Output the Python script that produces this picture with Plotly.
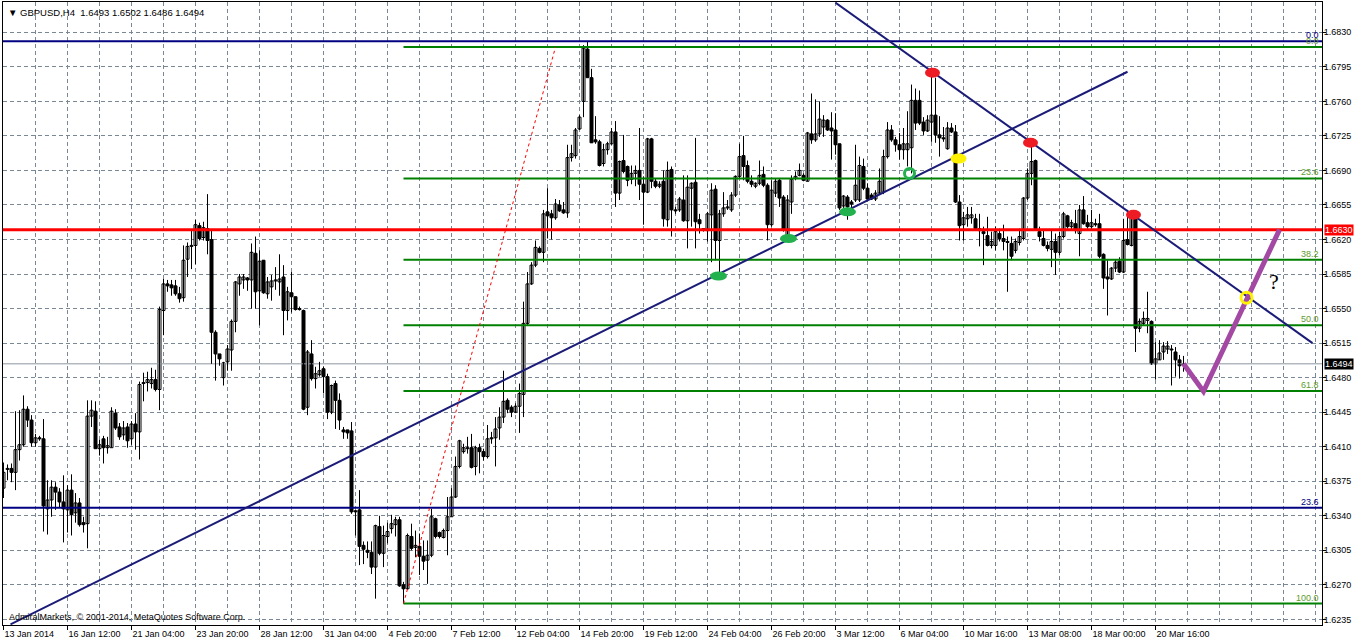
import plotly.graph_objects as go

# ---------------- candle data (GBPUSD H4, bar index 0 = 13 Jan 2014 20:00) ----------------
opens = [
1.6368,1.6387,1.6388,1.6384,1.6407,1.6412,1.6448,1.6437,1.6414,1.6419,
1.6418,1.6347,1.6356,1.6369,1.6364,1.6354,1.6346,1.6366,1.6343,1.6353,
1.6333,1.6332,1.6441,1.6446,1.6408,1.6418,1.6409,1.6409,1.6444,1.6430,
1.6422,1.6430,1.6418,1.6433,1.6425,1.6474,1.6475,1.6474,1.6478,1.6468,
1.6548,1.6575,1.6574,1.6573,1.6565,1.6561,1.6600,1.6613,1.6614,1.6634,
1.6622,1.6631,1.6620,1.6526,1.6504,1.6480,1.6496,1.6508,1.6537,1.6575,
1.6579,1.6581,1.6579,1.6606,1.6568,1.6599,1.6565,1.6572,1.6578,1.6577,
1.6582,1.6548,1.6566,1.6562,1.6550,1.6548,1.6450,1.6504,1.6479,1.6483,
1.6489,1.6481,1.6445,1.6474,1.6457,1.6427,1.6427,1.6426,1.6345,1.6346,
1.6310,1.6305,1.6303,1.6288,1.6329,1.6302,1.6319,1.6327,1.6331,1.6336,
1.6270,1.6266,1.6319,1.6308,1.6309,1.6299,1.6295,1.6300,1.6337,1.6323,
1.6318,1.6325,1.6339,1.6359,1.6390,1.6405,1.6408,1.6409,1.6390,1.6409,
1.6405,1.6400,1.6419,1.6419,1.6429,1.6440,1.6457,1.6450,1.6445,1.6451,
1.6463,1.6535,1.6575,1.6594,1.6611,1.6607,1.6648,1.6646,1.6642,1.6655,
1.6650,1.6647,1.6703,1.6705,1.6732,1.6760,1.6813,1.6784,1.6721,1.6719,
1.6697,1.6711,1.6717,1.6729,1.6667,1.6700,1.6694,1.6681,1.6687,1.6690,
1.6676,1.6668,1.6722,1.6679,1.6674,1.6679,1.6640,1.6691,1.6650,1.6650,
1.6660,1.6639,1.6672,1.6678,1.6640,1.6631,1.6629,1.6645,1.6671,1.6619,
1.6646,1.6652,1.6650,1.6665,1.6684,1.6705,1.6695,1.6679,1.6674,1.6677,
1.6686,1.6675,1.6635,1.6667,1.6680,1.6663,1.6621,1.6658,1.6682,1.6685,
1.6685,1.6679,1.6727,1.6721,1.6727,1.6734,1.6741,1.6733,1.6731,1.6717,
1.6654,1.6663,1.6658,1.6660,1.6660,1.6694,1.6672,1.6665,1.6661,1.6667,
1.6668,1.6704,1.6731,1.6721,1.6716,1.6711,1.6711,1.6713,1.6761,1.6761,
1.6739,1.6730,1.6739,1.6746,1.6726,1.6723,1.6712,1.6733,1.6729,1.6658,
1.6635,1.6641,1.6642,1.6641,1.6631,1.6628,1.6624,1.6614,1.6614,1.6626,
1.6621,1.6618,1.6616,1.6609,1.6617,1.6621,1.6662,1.6687,1.6700,1.6628,
1.6621,1.6614,1.6610,1.6618,1.6607,1.6623,1.6644,1.6633,1.6636,1.6626,
1.6650,1.6637,1.6633,1.6636,1.6636,1.6605,1.6582,1.6580,1.6591,1.6598,
1.6587,1.6620,1.6614,1.6641,1.6530,1.6535,1.6538,1.6537,1.6494,1.6498,
1.6506,1.6509,1.6509,1.6506,1.6498,1.6493]
highs = [
1.6394,1.6392,1.6393,1.6446,1.6447,1.6462,1.6451,1.6442,1.6423,1.6421,
1.6438,1.6376,1.6376,1.6374,1.6368,1.6381,1.6371,1.6382,1.6363,1.6358,
1.6339,1.6457,1.6457,1.6456,1.6417,1.6421,1.6420,1.6450,1.6448,1.6434,
1.6436,1.6434,1.6436,1.6444,1.6476,1.6485,1.6486,1.6490,1.6488,1.6552,
1.6580,1.6579,1.6579,1.6579,1.6572,1.6614,1.6617,1.6629,1.6640,1.6637,
1.6638,1.6666,1.6629,1.6528,1.6504,1.6496,1.6513,1.6539,1.6578,1.6585,
1.6585,1.6582,1.6616,1.6623,1.6609,1.6599,1.6582,1.6584,1.6592,1.6605,
1.6594,1.6572,1.6587,1.6562,1.6552,1.6549,1.6508,1.6518,1.6491,1.6496,
1.6491,1.6484,1.6473,1.6477,1.6464,1.6430,1.6427,1.6435,1.6346,1.6366,
1.6314,1.6314,1.6314,1.6331,1.6340,1.6330,1.6333,1.6341,1.6339,1.6339,
1.6273,1.6322,1.6332,1.6325,1.6322,1.6315,1.6315,1.6347,1.6338,1.6324,
1.6327,1.6359,1.6368,1.6400,1.6417,1.6413,1.6420,1.6423,1.6411,1.6413,
1.6408,1.6432,1.6425,1.6440,1.6450,1.6487,1.6459,1.6452,1.6454,1.6474,
1.6557,1.6587,1.6597,1.6619,1.6613,1.6650,1.6672,1.6650,1.6661,1.6660,
1.6658,1.6716,1.6716,1.6733,1.6746,1.6817,1.6821,1.6793,1.6745,1.6721,
1.6717,1.6719,1.6733,1.6740,1.6700,1.6726,1.6695,1.6695,1.6695,1.6733,
1.6684,1.6723,1.6723,1.6682,1.6679,1.6690,1.6699,1.6694,1.6653,1.6663,
1.6685,1.6685,1.6678,1.6723,1.6646,1.6631,1.6648,1.6677,1.6675,1.6650,
1.6668,1.6660,1.6668,1.6685,1.6717,1.6725,1.6700,1.6685,1.6678,1.6700,
1.6694,1.6677,1.6680,1.6682,1.6682,1.6665,1.6665,1.6685,1.6689,1.6697,
1.6687,1.6729,1.6768,1.6762,1.6760,1.6746,1.6742,1.6749,1.6748,1.6717,
1.6665,1.6665,1.6660,1.6716,1.6704,1.6702,1.6677,1.6667,1.6670,1.6692,
1.6711,1.6739,1.6736,1.6724,1.6728,1.6733,1.6750,1.6777,1.6773,1.6771,
1.6744,1.6746,1.6788,1.6784,1.6745,1.6734,1.6739,1.6738,1.6736,1.6665,
1.6648,1.6653,1.6653,1.6646,1.6646,1.6633,1.6643,1.6628,1.6633,1.6631,
1.6635,1.6623,1.6623,1.6621,1.6631,1.6663,1.6692,1.6717,1.6701,1.6633,
1.6630,1.6618,1.6630,1.6626,1.6628,1.6648,1.6645,1.6640,1.6650,1.6655,
1.6664,1.6645,1.6650,1.6641,1.6646,1.6606,1.6599,1.6592,1.6600,1.6602,
1.6641,1.6650,1.6645,1.6643,1.6540,1.6547,1.6567,1.6538,1.6516,1.6518,
1.6516,1.6517,1.6513,1.6511,1.6503,1.6502]
lows = [
1.6358,1.6376,1.6374,1.6366,1.6396,1.6410,1.6430,1.6410,1.6410,1.6416,
1.6324,1.6321,1.6339,1.6346,1.6348,1.6313,1.6323,1.6320,1.6333,1.6329,
1.6323,1.6307,1.6430,1.6408,1.6401,1.6393,1.6403,1.6409,1.6427,1.6417,
1.6417,1.6409,1.6412,1.6407,1.6397,1.6456,1.6466,1.6469,1.6466,1.6447,
1.6523,1.6567,1.6563,1.6563,1.6556,1.6557,1.6582,1.6590,1.6595,1.6619,
1.6619,1.6605,1.6494,1.6477,1.6492,1.6472,1.6487,1.6487,1.6526,1.6563,
1.6570,1.6568,1.6550,1.6550,1.6533,1.6565,1.6560,1.6558,1.6569,1.6563,
1.6523,1.6538,1.6546,1.6548,1.6548,1.6447,1.6442,1.6477,1.6469,1.6481,
1.6464,1.6438,1.6443,1.6428,1.6427,1.6418,1.6418,1.6342,1.6320,1.6290,
1.6291,1.6297,1.6281,1.6256,1.6300,1.6288,1.6312,1.6322,1.6319,1.6268,
1.6251,1.6265,1.6305,1.6298,1.6280,1.6285,1.6271,1.6298,1.6317,1.6317,
1.6317,1.6300,1.6339,1.6358,1.6388,1.6403,1.6403,1.6388,1.6381,1.6383,
1.6396,1.6398,1.6413,1.6390,1.6417,1.6434,1.6444,1.6440,1.6444,1.6424,
1.6440,1.6533,1.6574,1.6592,1.6606,1.6597,1.6621,1.6620,1.6640,1.6648,
1.6646,1.6642,1.6699,1.6702,1.6731,1.6744,1.6784,1.6718,1.6717,1.6694,
1.6694,1.6706,1.6716,1.6653,1.6660,1.6687,1.6674,1.6676,1.6674,1.6660,
1.6635,1.6667,1.6672,1.6672,1.6672,1.6633,1.6633,1.6623,1.6646,1.6648,
1.6638,1.6611,1.6633,1.6611,1.6626,1.6628,1.6618,1.6597,1.6599,1.6586,
1.6643,1.6650,1.6648,1.6663,1.6682,1.6680,1.6677,1.6673,1.6672,1.6675,
1.6673,1.6619,1.6633,1.6663,1.6653,1.6628,1.6619,1.6646,1.6680,1.6684,
1.6679,1.6679,1.6717,1.6719,1.6724,1.6724,1.6730,1.6701,1.6706,1.6650,
1.6652,1.6640,1.6650,1.6658,1.6658,1.6670,1.6660,1.6660,1.6659,1.6665,
1.6666,1.6702,1.6719,1.6709,1.6701,1.6701,1.6694,1.6687,1.6731,1.6736,
1.6726,1.6729,1.6719,1.6718,1.6704,1.6719,1.6711,1.6728,1.6657,1.6619,
1.6619,1.6633,1.6636,1.6629,1.6613,1.6594,1.6613,1.6611,1.6609,1.6618,
1.6609,1.6567,1.6599,1.6606,1.6614,1.6619,1.6660,1.6675,1.6629,1.6618,
1.6613,1.6608,1.6592,1.6584,1.6604,1.6621,1.6631,1.6629,1.6626,1.6603,
1.6635,1.6631,1.6631,1.6633,1.6601,1.6570,1.6543,1.6579,1.6587,1.6586,
1.6586,1.6614,1.6613,1.6506,1.6526,1.6533,1.6525,1.6493,1.6478,1.6498,
1.6498,1.6504,1.6472,1.6481,1.6479,1.6486]
closes = [
1.6384,1.6388,1.6384,1.6407,1.6412,1.6448,1.6437,1.6414,1.6419,1.6418,
1.6350,1.6356,1.6369,1.6364,1.6354,1.6347,1.6366,1.6341,1.6353,1.6331,
1.6331,1.6441,1.6447,1.6408,1.6412,1.6409,1.6411,1.6446,1.6429,1.6420,
1.6429,1.6416,1.6433,1.6425,1.6473,1.6475,1.6478,1.6478,1.6468,1.6549,
1.6575,1.6573,1.6571,1.6565,1.6560,1.6599,1.6613,1.6614,1.6635,1.6621,
1.6632,1.6619,1.6526,1.6504,1.6499,1.6495,1.6509,1.6537,1.6577,1.6582,
1.6582,1.6579,1.6607,1.6567,1.6598,1.6566,1.6577,1.6578,1.6579,1.6580,
1.6548,1.6567,1.6562,1.6549,1.6549,1.6448,1.6506,1.6479,1.6484,1.6487,
1.6481,1.6445,1.6472,1.6457,1.6437,1.6425,1.6424,1.6344,1.6344,1.6309,
1.6306,1.6303,1.6288,1.6330,1.6302,1.6320,1.6324,1.6332,1.6336,1.6269,
1.6266,1.6320,1.6307,1.6310,1.6299,1.6294,1.6300,1.6339,1.6319,1.6319,
1.6325,1.6339,1.6359,1.6390,1.6416,1.6409,1.6409,1.6389,1.6409,1.6405,
1.6400,1.6418,1.6418,1.6428,1.6440,1.6456,1.6448,1.6445,1.6451,1.6464,
1.6535,1.6575,1.6594,1.6612,1.6607,1.6646,1.6644,1.6642,1.6656,1.6649,
1.6647,1.6703,1.6707,1.6731,1.6744,1.6814,1.6784,1.6718,1.6719,1.6695,
1.6711,1.6717,1.6729,1.6667,1.6699,1.6689,1.6680,1.6687,1.6690,1.6676,
1.6668,1.6722,1.6679,1.6674,1.6676,1.6641,1.6690,1.6650,1.6649,1.6661,
1.6639,1.6673,1.6677,1.6638,1.6636,1.6630,1.6646,1.6670,1.6619,1.6646,
1.6652,1.6653,1.6665,1.6684,1.6704,1.6694,1.6679,1.6676,1.6677,1.6685,
1.6675,1.6635,1.6670,1.6679,1.6662,1.6630,1.6660,1.6681,1.6684,1.6690,
1.6680,1.6728,1.6721,1.6727,1.6742,1.6741,1.6731,1.6730,1.6716,1.6652,
1.6664,1.6653,1.6656,1.6675,1.6695,1.6672,1.6661,1.6661,1.6667,1.6679,
1.6704,1.6731,1.6721,1.6716,1.6711,1.6717,1.6717,1.6761,1.6738,1.6738,
1.6730,1.6741,1.6746,1.6726,1.6723,1.6722,1.6733,1.6729,1.6658,1.6634,
1.6642,1.6645,1.6645,1.6631,1.6629,1.6626,1.6614,1.6618,1.6628,1.6621,
1.6618,1.6617,1.6603,1.6618,1.6623,1.6662,1.6687,1.6699,1.6631,1.6623,
1.6614,1.6611,1.6618,1.6607,1.6623,1.6646,1.6633,1.6637,1.6629,1.6650,
1.6636,1.6633,1.6637,1.6635,1.6603,1.6581,1.6580,1.6591,1.6597,1.6587,
1.6619,1.6615,1.6643,1.6530,1.6537,1.6540,1.6540,1.6494,1.6499,1.6505,
1.6512,1.6512,1.6508,1.6498,1.6492,1.6494]

# ---------------- axis labels ----------------
date_tick_bars = [0, 16, 32, 48, 64, 80, 96, 112, 128, 144, 160, 176, 192, 208, 224, 240, 256, 272, 288]
date_tick_labels = ["13 Jan 2014", "16 Jan 12:00", "21 Jan 04:00", "23 Jan 20:00", "28 Jan 12:00",
                    "31 Jan 04:00", "4 Feb 20:00", "7 Feb 12:00", "12 Feb 04:00", "14 Feb 20:00",
                    "19 Feb 12:00", "24 Feb 04:00", "26 Feb 20:00", "3 Mar 12:00", "6 Mar 04:00",
                    "10 Mar 16:00", "13 Mar 08:00", "18 Mar 00:00", "20 Mar 16:00"]
price_ticks = [1.6235, 1.6270, 1.6305, 1.6340, 1.6375, 1.6410, 1.6445, 1.6480, 1.6515, 1.6550,
               1.6585, 1.6620, 1.6655, 1.6690, 1.6725, 1.6760, 1.6795, 1.6830]

# ---------------- chart objects ----------------
green_fib_high = 1.6815
green_fib_low = 1.6251
green_fib_start = 100
green_fib_levels = [0.0, 23.6, 38.2, 50.0, 61.8, 100.0]
blue_fib_high = 1.6821
blue_fib_low = 1.4817
blue_fib_levels = [0.0, 23.6]
resistance_level = 1.6630

up_trend_bars = [1.75, 281]
up_trend_prices = [1.6230, 1.6790]
down_trend_bars = [208, 327.25]
down_trend_prices = [1.6860, 1.6515]
fib_ray_bars = [100, 138]
fib_ray_prices = [1.6251, 1.6815]
projection_bars = [295, 300, 319]
projection_prices = [1.6494, 1.6466, 1.6630]

green_mark_bars = [178.75, 196.25, 211]
green_mark_prices = [1.6583, 1.6621, 1.6648]
red_mark_bars = [232.25, 256.75, 282.5]
red_mark_prices = [1.6789, 1.6718, 1.6645]
yellow_mark_bars = [238.75]
yellow_mark_prices = [1.6702]
green_ring_bars = [226.5]
green_ring_prices = [1.6687]
yellow_ring_bars = [310.75]
yellow_ring_prices = [1.6561]
question_bar = 317.5
question_price = 1.6577

# ---------------- figure ----------------
X_MIN, X_MAX = -0.125, 329.625
Y_MIN, Y_MAX = 1.62293, 1.68607
GRID = "#7A8794"
FONT = "Liberation Sans"
NAVY = "#000080"
TREND = "#1B1B78"
GREEN = "#008000"
bars = list(range(len(opens)))
bid = closes[-1]

fig = go.Figure()

# bid line (behind candles)
fig.add_trace(go.Scatter(x=[X_MIN, X_MAX], y=[bid, bid], mode="lines",
                         line=dict(color="#8C96A0", width=1), hoverinfo="skip", showlegend=False))

# candle wicks
wick_x, wick_y = [], []
for i, h, l in zip(bars, highs, lows):
    wick_x += [i, i, None]
    wick_y += [l, h, None]
fig.add_trace(go.Scatter(x=wick_x, y=wick_y, mode="lines", line=dict(color="black", width=1),
                         hoverinfo="skip", showlegend=False))

# candle bodies
body_base = [min(o, c) for o, c in zip(opens, closes)]
body_len = [max(abs(c - o), 0.00004) for o, c in zip(opens, closes)]
body_fill = ["white" if c > o else "black" for o, c in zip(opens, closes)]
fig.add_trace(go.Bar(x=bars, y=body_len, base=body_base, width=0.75,
                     marker=dict(color=body_fill, line=dict(color="black", width=1)),
                     hoverinfo="skip", showlegend=False))

def line(xs, ys, color, width, dash=None):
    fig.add_trace(go.Scatter(x=xs, y=ys, mode="lines",
                             line=dict(color=color, width=width, dash=dash),
                             hoverinfo="skip", showlegend=False))

# blue fibo (full width)
blue_prices = [blue_fib_high - lv / 100 * (blue_fib_high - blue_fib_low) for lv in blue_fib_levels]
for p in blue_prices:
    line([X_MIN, X_MAX], [p, p], NAVY, 2)
# green fibo
green_prices = [green_fib_high - lv / 100 * (green_fib_high - green_fib_low) for lv in green_fib_levels]
for p in green_prices:
    line([green_fib_start, X_MAX], [p, p], GREEN, 2)
# fibo ray
line(fib_ray_bars, fib_ray_prices, "#FF0000", 1, "3px,3px")
# red horizontal
line([X_MIN, X_MAX], [resistance_level, resistance_level], "#FF0000", 3)
# trend lines
line(up_trend_bars, up_trend_prices, TREND, 2)
line(down_trend_bars, down_trend_prices, TREND, 2)
# projection
line(projection_bars, projection_prices, "#A349A4", 5)

shapes = []
def ellipse(bx, py, w, h, fill, border=None, bw=0):
    shapes.append(dict(type="circle", xref="x", yref="y", xsizemode="pixel", ysizemode="pixel",
                       xanchor=bx, yanchor=py, x0=-w / 2, x1=w / 2, y0=-h / 2, y1=h / 2,
                       fillcolor=fill, line=dict(color=border or fill, width=bw), layer="above"))

for bx, py in zip(green_mark_bars, green_mark_prices):
    ellipse(bx, py, 17, 9, "#22B14C")
for bx, py in zip(red_mark_bars, red_mark_prices):
    ellipse(bx, py, 15, 10, "#ED1C24")
for bx, py in zip(yellow_mark_bars, yellow_mark_prices):
    ellipse(bx, py, 16, 10, "#FFF200")
for bx, py in zip(green_ring_bars, green_ring_prices):
    ellipse(bx, py, 10, 10, "rgba(0,0,0,0)", "#22B14C", 3)
for bx, py in zip(yellow_ring_bars, yellow_ring_prices):
    ellipse(bx, py, 11, 11, "rgba(0,0,0,0)", "#FFF200", 3)

annotations = []
# fib labels
for lv, p in zip(green_fib_levels, green_prices):
    annotations.append(dict(xref="paper", x=1, xanchor="right", xshift=-1, yref="y", y=p,
                            yanchor="bottom", yshift=-1, text=f"{lv:.1f}", showarrow=False,
                            font=dict(family=FONT, size=9, color="#5E9C2E")))
for lv, p in zip(blue_fib_levels, blue_prices):
    annotations.append(dict(xref="paper", x=1, xanchor="right", xshift=-1, yref="y", y=p,
                            yanchor="bottom", yshift=-1, text=f"{lv:.1f}", showarrow=False,
                            font=dict(family=FONT, size=9, color=NAVY)))
# price boxes
annotations.append(dict(xref="paper", x=1, xanchor="left", xshift=2, yref="y", y=resistance_level,
                        text=f"{resistance_level:.4f}", showarrow=False, bgcolor="#FF0000",
                        font=dict(family=FONT, size=9, color="white"), borderpad=0))
annotations.append(dict(xref="paper", x=1, xanchor="left", xshift=2, yref="y", y=bid,
                        text=f"{bid:.4f}", showarrow=False, bgcolor="black",
                        font=dict(family=FONT, size=9, color="white"), borderpad=0))
# header & copyright
annotations.append(dict(xref="paper", x=0, xanchor="left", xshift=3, yref="paper", y=1,
                        yanchor="top", yshift=-3,
                        text=f"▼ GBPUSD,H4  {opens[-1]:.4f} {highs[-1]:.4f} {lows[-1]:.4f} {closes[-1]:.4f}",
                        showarrow=False, font=dict(family=FONT, size=9.5, color="black")))
annotations.append(dict(xref="paper", x=0, xanchor="left", xshift=4, yref="paper", y=0,
                        yanchor="bottom", yshift=1,
                        text="AdmiralMarkets, © 2001-2014, MetaQuotes Software Corp.",
                        showarrow=False, font=dict(family=FONT, size=9, color="black")))
# question mark
annotations.append(dict(xref="x", x=question_bar, yref="y", y=question_price, text="?",
                        showarrow=False, font=dict(family="Liberation Serif", size=22, color="black")))

grid_kw = dict(gridcolor=GRID, griddash="4px,3px", gridwidth=1)

fig.update_layout(
    width=1362, height=643,
    margin=dict(l=3, r=40, t=2, b=18),
    paper_bgcolor="white", plot_bgcolor="white",
    showlegend=False, hovermode=False, barmode="overlay",
    shapes=shapes, annotations=annotations,
    xaxis=dict(range=[X_MIN, X_MAX], tickmode="array", tickvals=date_tick_bars, ticktext=date_tick_labels,
               ticklabelposition="outside right", ticks="outside", ticklen=4, tickcolor="black",
               showgrid=True, **grid_kw,
               minor=dict(tickmode="linear", tick0=0, dtick=8, showgrid=True, ticks="", **grid_kw),
               showline=True, linecolor="black", linewidth=1, mirror=True, zeroline=False,
               fixedrange=True, automargin=False,
               tickfont=dict(family=FONT, size=9, color="black")),
    yaxis=dict(side="right", range=[Y_MIN, Y_MAX], tickmode="array", tickvals=price_ticks, tickformat=".4f",
               ticks="outside", ticklen=3, tickcolor="black", ticklabelstandoff=-4,
               showgrid=True, **grid_kw,
               showline=True, linecolor="black", linewidth=1, mirror=True, zeroline=False,
               fixedrange=True, automargin=False,
               tickfont=dict(family=FONT, size=9, color="black")),
)

fig.write_html("out.html", config={"displayModeBar": False},
               post_script="document.body.style.margin='0px';")
